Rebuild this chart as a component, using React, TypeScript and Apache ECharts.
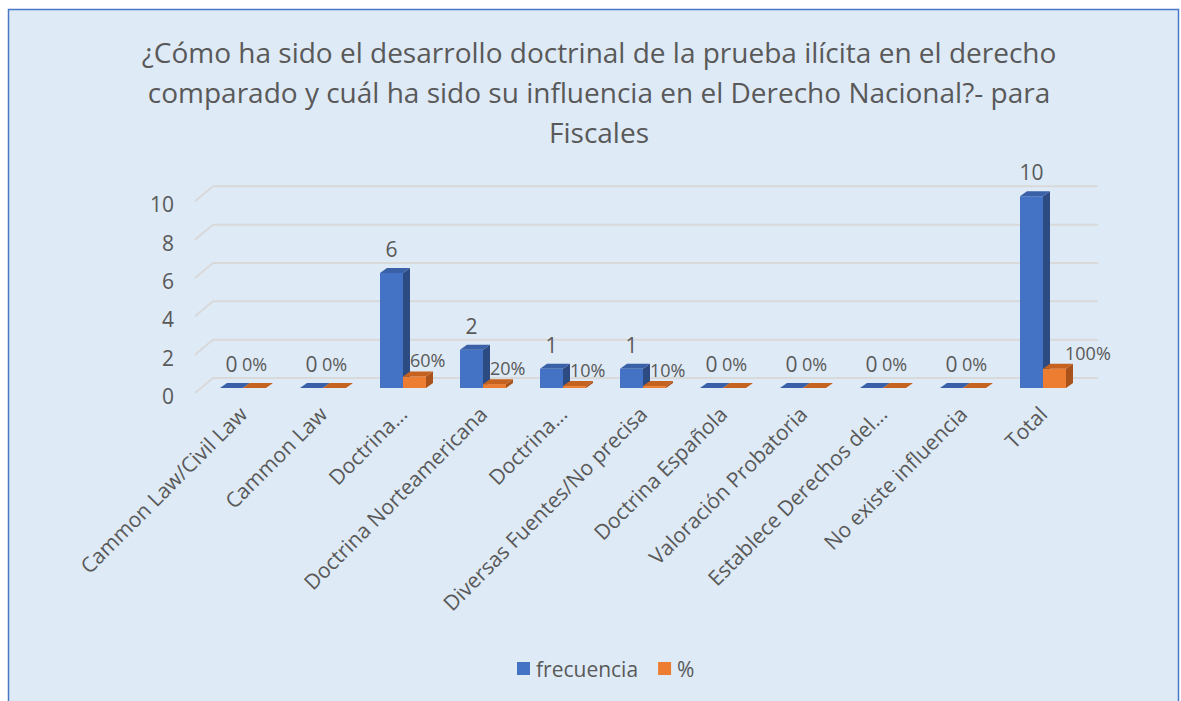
import React, { useEffect, useRef } from "react";
import * as echarts from "echarts";

const titleLines = [
  "¿Cómo ha sido el desarrollo doctrinal de la prueba ilícita en el derecho",
  "comparado y cuál ha sido su influencia en el Derecho Nacional?- para",
  "Fiscales",
];
const categories = [
  "Cammon Law/Civil Law",
  "Cammon Law",
  "Doctrina...",
  "Doctrina Norteamericana",
  "Doctrina...",
  "Diversas Fuentes/No precisa",
  "Doctrina Española",
  "Valoración Probatoria",
  "Establece Derechos del...",
  "No existe influencia",
  "Total",
];
const frecuencia = [0, 0, 6, 2, 1, 1, 0, 0, 0, 0, 10];
const porcentaje = [0, 0, 0.6, 0.2, 0.1, 0.1, 0, 0, 0, 0, 1];
const yTicks = [0, 2, 4, 6, 8, 10];
const seriesNames = ["frecuencia", "%"];

const FONT = "'Open Sans', sans-serif";
const TXT = "#595959";

export default function App() {
  const ref = useRef<HTMLDivElement>(null);
  useEffect(() => {
    if (!ref.current) return;
    const chart = echarts.init(ref.current, null, { renderer: "svg" });
    const W = 23;
    const DX = 7;
    const DY = 5;

    const makeBar =
      (slot: number, front: string, side: string, topc: string, isPct: boolean) =>
      (params: any, api: any) => {
        const cat = api.value(0);
        const v = api.value(1);
        const top = api.coord([cat, v]);
        const base = api.coord([cat, 0]);
        const left = top[0] - W + slot * W;
        const t = top[1];
        const b = base[1];
        const children: any[] = [];
        if (b - t > 0.5) {
          children.push({
            type: "rect",
            shape: { x: left, y: t, width: W, height: b - t },
            style: { fill: front },
          });
          children.push({
            type: "polygon",
            shape: {
              points: [
                [left + W, t],
                [left + W + DX, t - DY],
                [left + W + DX, b - DY],
                [left + W, b],
              ],
            },
            style: { fill: side },
          });
        }
        children.push({
          type: "polygon",
          shape: {
            points: [
              [left, t],
              [left + DX, t - DY],
              [left + W + DX, t - DY],
              [left + W, t],
            ],
          },
          style: { fill: topc },
        });
        if (!isPct) {
          children.push({
            type: "text",
            style: {
              text: String(v),
              x: left + W / 2,
              y: t - DY - 19,
              align: "center",
              verticalAlign: "middle",
              fontSize: 21,
              fontFamily: FONT,
              fill: TXT,
            },
          });
        } else {
          const txt = Math.round(v * 100) + "%";
          const lx = v === 0 ? left - 1 : v >= 1 ? left + 22 : left + 7;
          children.push({
            type: "text",
            style: {
              text: txt,
              x: lx,
              y: v === 0 ? t - DY - 19 : t - DY - 11,
              align: "left",
              verticalAlign: "middle",
              fontSize: 18,
              fontFamily: FONT,
              fill: TXT,
            },
          });
        }
        return { type: "group", children };
      };

    const option: any = {
      animation: false,
      backgroundColor: "#ffffff",
      textStyle: { fontFamily: FONT, color: TXT },
      graphic: [
        {
          type: "rect",
          z: -10,
          silent: true,
          shape: { x: 8.5, y: 9.5, width: 1170, height: 720 },
          style: { fill: "#DEEAF6", stroke: "#4A78C8", lineWidth: 1.5 },
        },
      ],
      title: {
        text: titleLines.join("\n"),
        left: 594,
        textAlign: "center",
        top: 27,
        textStyle: {
          fontFamily: FONT,
          fontSize: 28,
          fontWeight: "normal",
          color: TXT,
          lineHeight: 40,
        },
      },
      legend: {
        data: seriesNames,
        left: 512,
        top: 653,
        itemWidth: 13,
        itemHeight: 13,
        itemGap: 20,
        icon: "rect",
        textStyle: { fontFamily: FONT, fontSize: 21, color: TXT, padding: [0, 0, 0, 1] },
      },
      grid: { left: 203, width: 880, top: 196.3, bottom: 313 },
      xAxis: {
        type: "category",
        data: categories,
        axisLine: { show: false },
        axisTick: { show: false },
        axisLabel: {
          interval: 0,
          rotate: 45,
          margin: 22,
          fontSize: 21,
          fontFamily: FONT,
          color: TXT,
        },
      },
      yAxis: {
        type: "value",
        min: 0,
        max: 10,
        interval: 2,
        axisLine: { show: false },
        axisTick: { show: false },
        splitLine: { show: false },
        axisLabel: { show: false },
      },
      series: [
        {
          type: "custom",
          name: "grid",
          z: 1,
          silent: true,
          clip: false,
          data: yTicks.map((v) => [0, v]),
          renderItem: (params: any, api: any) => {
            const v = api.value(1);
            const p = api.coord([0, v]);
            const cs = params.coordSys;
            return {
              type: "group",
              children: [
                {
                  type: "polyline",
                  shape: {
                    points: [
                      [cs.x - 8, p[1] + 5],
                      [cs.x + 10, p[1] - 10],
                      [cs.x + cs.width + 15, p[1] - 10],
                    ],
                  },
                  style: { stroke: "#D9D9D9", lineWidth: 2, fill: "none" },
                },
                {
                  type: "text",
                  style: {
                    text: String(v),
                    x: cs.x - 29,
                    y: p[1] + 8,
                    align: "right",
                    verticalAlign: "middle",
                    fontSize: 21,
                    fontFamily: FONT,
                    fill: TXT,
                  },
                },
              ],
            };
          },
        },
        {
          type: "custom",
          name: seriesNames[0],
          z: 3,
          clip: false,
          itemStyle: { color: "#4472C4" },
          data: frecuencia.map((v, i) => [i, v]),
          renderItem: makeBar(0, "#4472C4", "#2C4B82", "#3A60A8", false),
        },
        {
          type: "custom",
          name: seriesNames[1],
          z: 4,
          clip: false,
          itemStyle: { color: "#ED7D31" },
          data: porcentaje.map((v, i) => [i, v]),
          renderItem: makeBar(1, "#ED7D31", "#A9521C", "#C5621F", true),
        },
      ],
    };
    chart.setOption(option);
    return () => chart.dispose();
  }, []);
  return (
    <div
      ref={ref}
      style={{ position: "fixed", left: 0, top: 0, width: 1181, height: 701 }}
    />
  );
}
